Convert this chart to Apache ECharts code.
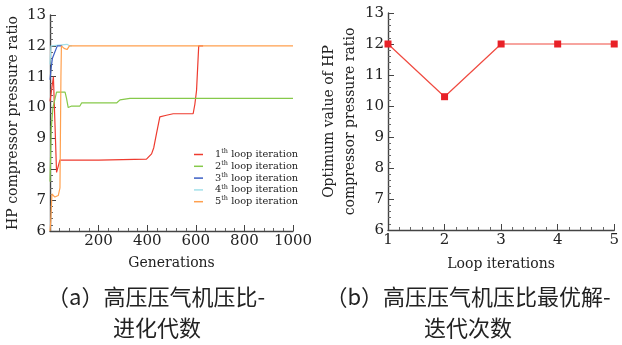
<!DOCTYPE html>
<html><head><meta charset="utf-8">
<script src="https://cdn.jsdelivr.net/npm/echarts@6/dist/echarts.min.js"></script>
<style>html,body{margin:0;padding:0;background:#fff}#c{width:622px;height:345px}</style>
</head><body><div id="c"></div>
<script>
// Left panel: HP compressor pressure ratio vs generations
const loop1 = [[0,10.2],[14,11.0],[27,7.9],[41,8.3],[200,8.3],[397,8.33],[418,8.5],[427,8.7],[438,9.15],[452,9.7],[459,9.72],[479,9.75],[507,9.8],[589,9.8],[596,10.1],[603,10.55],[612,12.0],[630,12.0]];
const loop2 = [[0,7.6],[5,9.3],[12,10.0],[27,10.5],[62,10.5],[68,10.3],[75,10.0],[89,10.05],[123,10.05],[130,10.15],[274,10.15],[288,10.25],[329,10.3],[1000,10.3]];
const loop3 = [[0,10.9],[5,11.3],[10,11.6],[20,11.8],[30,12.0],[50,12.0]];
const loop4 = [[0,11.4],[4,12.0],[10,12.05],[70,12.05],[80,12.0],[90,12.0]];
const loop5 = [[0,6.0],[3,6.3],[8,7.2],[20,7.1],[34,7.15],[41,7.4],[45,11.0],[47,12.0],[58,11.92],[70,11.88],[80,12.0],[1000,12.0]];
const seriesNames = ['1','2','3','4','5'];
// Right panel: optimum value vs loop iterations
const loopIterations = [1,2,3,4,5];
const optimumValues = [12.0,10.3,12.0,12.0,12.0];
const xTicksLeft = [200,400,600,800,1000];

const colors = ['#ee3b2f','#86c94a','#3b5fc4','#a3e1ea','#ffa04e'];
const serif = 'DejaVu Serif';
const cjk = 'Noto Sans CJK SC';
const chart = echarts.init(document.getElementById('c'));
const labelStyle = {color:'#222',fontFamily:serif,fontSize:15,margin:4};
const axisCommon = {
  axisLine:{show:true,lineStyle:{color:'#444',width:1.4}},
  axisTick:{show:true,inside:true,length:6,lineStyle:{color:'#444'}},
  minorTick:{show:true,splitNumber:5,length:3,lineStyle:{color:'#666'}},
  splitLine:{show:false},
  axisLabel:labelStyle,
  nameTextStyle:{color:'#222',fontFamily:serif,fontSize:14}
};
const datas = [loop1,loop2,loop3,loop4,loop5];
const lineSeries = datas.map((d,i)=>({
  name: seriesNames[i], type:'line', xAxisIndex:0, yAxisIndex:0, data:d,
  showSymbol:false, symbol:'none', lineStyle:{width:1.2,color:colors[i]}, itemStyle:{color:colors[i]},
  z: i===4?5:(i===2?3:2)
}));
chart.setOption({
  animation:false,
  backgroundColor:'#fff',
  textStyle:{fontFamily:serif},
  grid:[{left:50,top:15,width:243,height:216},{left:388,top:13,width:230,height:217}],
  legend:{
    data:seriesNames, left:189, top:143, orient:'vertical', itemGap:0.3,
    itemWidth:9, itemHeight:1.5, icon:'rect',
    formatter: n => '{n|'+n+'}{s|th}{t| loop iteration}',
    textStyle:{fontFamily:serif,fontSize:9.5,color:'#222',
      rich:{n:{fontFamily:serif,fontSize:9.8,color:'#222',lineHeight:13,padding:[0,0,0,7]},
            s:{fontFamily:serif,fontSize:6.5,color:'#222',verticalAlign:'top',lineHeight:9},
            t:{fontFamily:serif,fontSize:9.8,color:'#222',lineHeight:13}}}
  },
  xAxis:[
    Object.assign({},axisCommon,{gridIndex:0,type:'value',min:0,max:1000,interval:200,
      name:'Generations',nameLocation:'middle',nameGap:25,
      axisLabel:Object.assign({},labelStyle,{margin:3,showMinLabel:false,
        formatter:v=>xTicksLeft.includes(v)?String(v):''})}),
    Object.assign({},axisCommon,{gridIndex:1,type:'value',min:1,max:5,interval:1,
      name:'Loop iterations',nameLocation:'middle',nameGap:27,
      axisLabel:Object.assign({},labelStyle,{margin:3})})
  ],
  yAxis:[
    Object.assign({},axisCommon,{gridIndex:0,type:'value',min:6,max:13,interval:1,
      name:'HP compressor pressure ratio',nameLocation:'middle',nameGap:30}),
    Object.assign({},axisCommon,{gridIndex:1,type:'value',min:6,max:13,interval:1,
      name:'Optimum value of HP\ncompressor pressure ratio',nameLocation:'middle',nameGap:22,
      nameTextStyle:Object.assign({},axisCommon.nameTextStyle,{lineHeight:21})})
  ],
  series: lineSeries.concat([{
    name:'opt', type:'line', xAxisIndex:1, yAxisIndex:1,
    data: loopIterations.map((x,i)=>[x,optimumValues[i]]),
    symbol:'rect', symbolSize:7, clip:false,
    lineStyle:{width:1.2,color:'#f04a40'}, itemStyle:{color:'#e82027'}
  }]),
  graphic:[
    {type:'text',style:{text:'（a）高压压气机压比-',fontFamily:cjk,fontSize:22,fill:'#222',textAlign:'center',textVerticalAlign:'middle',verticalAlign:'middle'},x:156,y:297},
    {type:'text',style:{text:'进化代数',fontFamily:cjk,fontSize:22,fill:'#222',textAlign:'center',textVerticalAlign:'middle',verticalAlign:'middle'},x:157,y:328},
    {type:'text',style:{text:'（b）高压压气机压比最优解-',fontFamily:cjk,fontSize:22,fill:'#222',textAlign:'center',textVerticalAlign:'middle',verticalAlign:'middle'},x:468,y:297},
    {type:'text',style:{text:'迭代次数',fontFamily:cjk,fontSize:22,fill:'#222',textAlign:'center',textVerticalAlign:'middle',verticalAlign:'middle'},x:468,y:328}
  ]
});
</script></body></html>
